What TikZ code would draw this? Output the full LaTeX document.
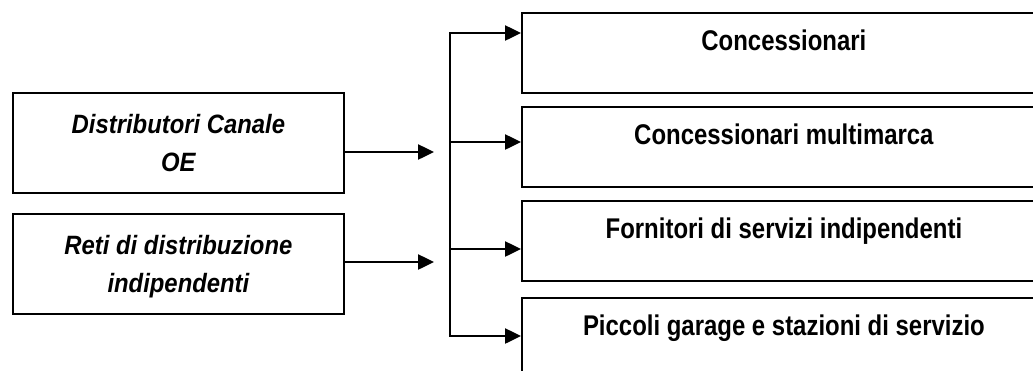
\documentclass[tikz,border=0pt]{standalone}
\usepackage{fontspec}
\setmainfont{Liberation Sans}
\newfontfamily\narrowfont[FakeStretch=0.84]{Liberation Sans}
\newfontfamily\semifont[FakeStretch=0.9]{Liberation Sans}
\usetikzlibrary{arrows.meta}
\begin{document}
\begin{tikzpicture}[x=1pt,y=-1pt,
  leftbox/.style={draw=black, line width=1.8pt, minimum width=331pt, minimum height=100pt,
    anchor=north west, align=center, inner sep=0pt, text depth=0pt,
    font=\fontsize{26.5}{38}\selectfont\semifont\bfseries\itshape},
  rightbox/.style={draw=black, line width=1.8pt, minimum width=524pt, minimum height=80pt,
    anchor=north west, inner sep=0pt, text height=20.4pt, text depth=24.4pt,
    font=\fontsize{28.5}{32}\selectfont\narrowfont\bfseries},
  conn/.style={line width=2.5pt, line cap=rect},
  arr/.style={line width=2.5pt, -{Triangle[length=16pt,width=15pt]}}]
\clip (0,0) rectangle (1033,370);
\fill[white] (0,0) rectangle (1033,370);
% left boxes
\node[leftbox] (l1) at (12,92) {Distributori Canale\\OE};
\node[leftbox] (l2) at (12,213) {Reti di distribuzione\\indipendenti};
% right boxes
\node[rightbox] (r1) at (521,12) {Concessionari};
\node[rightbox] (r2) at (521,106) {Concessionari multimarca};
\node[rightbox] (r3) at (521,200) {Fornitori di servizi indipendenti};
\node[rightbox] (r4) at (521,297) {Piccoli garage e stazioni di servizio};
% bus
\coordinate (btop) at (450,33);
\coordinate (b2) at (450,142);
\coordinate (b3) at (450,249);
\coordinate (bbot) at (450,336);
\draw[conn] (btop) -- (bbot);
% arrows from left boxes
\coordinate (t1) at (434,152);
\coordinate (t2) at (434,262);
\draw[arr] (t1 -| l1.east) -- (t1);
\draw[arr] (t2 -| l2.east) -- (t2);
% arrows to right boxes
\draw[arr] (btop) -- (btop -| r1.west);
\draw[arr] (b2) -- (b2 -| r2.west);
\draw[arr] (b3) -- (b3 -| r3.west);
\draw[arr] (bbot) -- (bbot -| r4.west);
\end{tikzpicture}
\end{document}
